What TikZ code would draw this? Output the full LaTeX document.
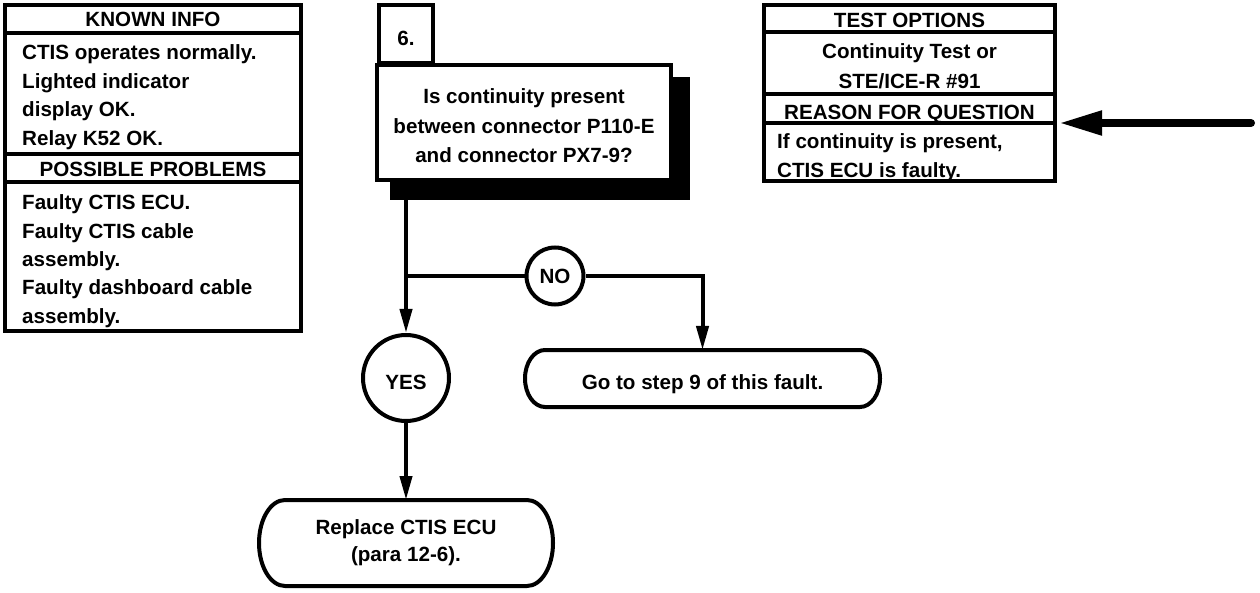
\documentclass[tikz,border=0pt]{standalone}
\usepackage{fontspec}
\setmainfont{Liberation Sans}
\usetikzlibrary{arrows.meta}

\tikzset{
  txt/.style={font=\bfseries\fontsize{20.6}{24}\selectfont, inner sep=0pt},
  frame/.style={line width=4.5pt},
  flow/.style={line width=4pt},
  flowarrow/.style={flow, -{Triangle[length=24pt,width=12pt]}},
  answer/.style={txt, draw, circle, line width=4pt, fill=white},
  lowtext/.style={text height=22pt, text depth=0pt},
  endbox/.style={txt, outer sep=0pt, align=center, font=\bfseries\fontsize{20.6}{27}\selectfont},
  endline/.style={line width=4pt, line join=round},
}

\begin{document}
\begin{tikzpicture}[x=1pt,y=-1pt]
\useasboundingbox (0,0) rectangle (1260,593);
% 左边：KNOWN INFO 和 POSSIBLE PROBLEMS
\draw[frame] (5,5) rectangle (301,331);
\draw[frame] (5,33) -- (301,33);
\draw[frame] (5,154) -- (301,154);
\draw[frame] (5,182) -- (301,182);
\node[txt, anchor=base] (known) at (153,27) {KNOWN INFO};
\foreach \t [count=\i] in {CTIS operates normally., Lighted indicator, display OK., Relay K52 OK.}
  \node[txt, anchor=base west] (known\i) at (22,{60+28.4*(\i-1)}) {\t};
\node[txt, anchor=base] (probs) at (153,177) {POSSIBLE PROBLEMS};
\foreach \t [count=\i] in {Faulty CTIS ECU., Faulty CTIS cable, assembly., Faulty dashboard cable, assembly.}
  \node[txt, anchor=base west] (probs\i) at (22,{210+28.3*(\i-1)}) {\t};
% 右边：TEST OPTIONS 和 REASON FOR QUESTION
\draw[frame] (764,5) rectangle (1055,181);
\draw[frame] (764,32) -- (1055,32);
\draw[frame] (764,94) -- (1055,94);
\draw[frame] (764,123) -- (1055,123);
\node[txt, anchor=base] (tests) at (909.5,28) {TEST OPTIONS};
\node[txt, anchor=base] (tests1) at (909.5,59) {Continuity Test or};
\node[txt, anchor=base] (tests2) at (909.5,89) {STE/ICE-R \#91};
\node[txt, anchor=base] (reason) at (909.5,120) {REASON FOR QUESTION};
\node[txt, anchor=base west] (reason1) at (777,149) {If continuity is present,};
\node[txt, anchor=base west] (reason2) at (777,178) {CTIS ECU is faulty.};
% 粗箭头
\coordinate (tail) at (1251,123);
\coordinate (rp) at (1059,123);
\draw[line width=8pt, line cap=round, -{Triangle[length=43pt,width=23pt]}] (tail) -- (rp);
% 第6步：问题框
\fill (390,77) rectangle (690,200);
\draw[frame] (379,5) rectangle (433,63);
\node[txt] (n6) at (406,38) {6.};
\node[draw, frame, fill=white, minimum width=294, minimum height=115] (q6) at (524,122.5) {};
\node[txt, align=center, font=\bfseries\fontsize{20.6}{29.5}\selectfont] (q6text) at (524,126)
  {Is continuity present\\between connector P110-E\\and connector PX7-9?};
% YES 和 NO
\node[answer, lowtext, minimum size=86] (yes) at (406,378) {YES};
\node[answer, minimum size=57] (no) at (555,276) {NO};
% 结果框
\node[endbox, lowtext, minimum width=355, minimum height=57] (goto) at (702.5,378.5) {Go to step 9 of this fault.};
\draw[endline] ([xshift=20]goto.north west) -- ([xshift=-20]goto.north east)
  arc[start angle=-90, end angle=90, x radius=20, y radius=28.5]
  -- ([xshift=20]goto.south west)
  arc[start angle=90, end angle=270, x radius=20, y radius=28.5] -- cycle;
\node[endbox, minimum width=294, minimum height=86] (repl) at (406,543) {Replace CTIS ECU\\(para 12-6).};
\draw[endline] ([xshift=26]repl.north west) -- ([xshift=-26]repl.north east)
  arc[start angle=-90, end angle=90, x radius=26, y radius=43]
  -- ([xshift=26]repl.south west)
  arc[start angle=90, end angle=270, x radius=26, y radius=43] -- cycle;
% 连线
\coordinate (stem) at (406,200);
\coordinate (split) at (406,276);
\draw[flowarrow] (stem) -- (yes.north);
\draw[flow] (split) -- (no.west);
\draw[flowarrow] (no.east) -| (goto.north);
\draw[flowarrow] (yes.south) -- (repl.north);
\end{tikzpicture}
\end{document}
